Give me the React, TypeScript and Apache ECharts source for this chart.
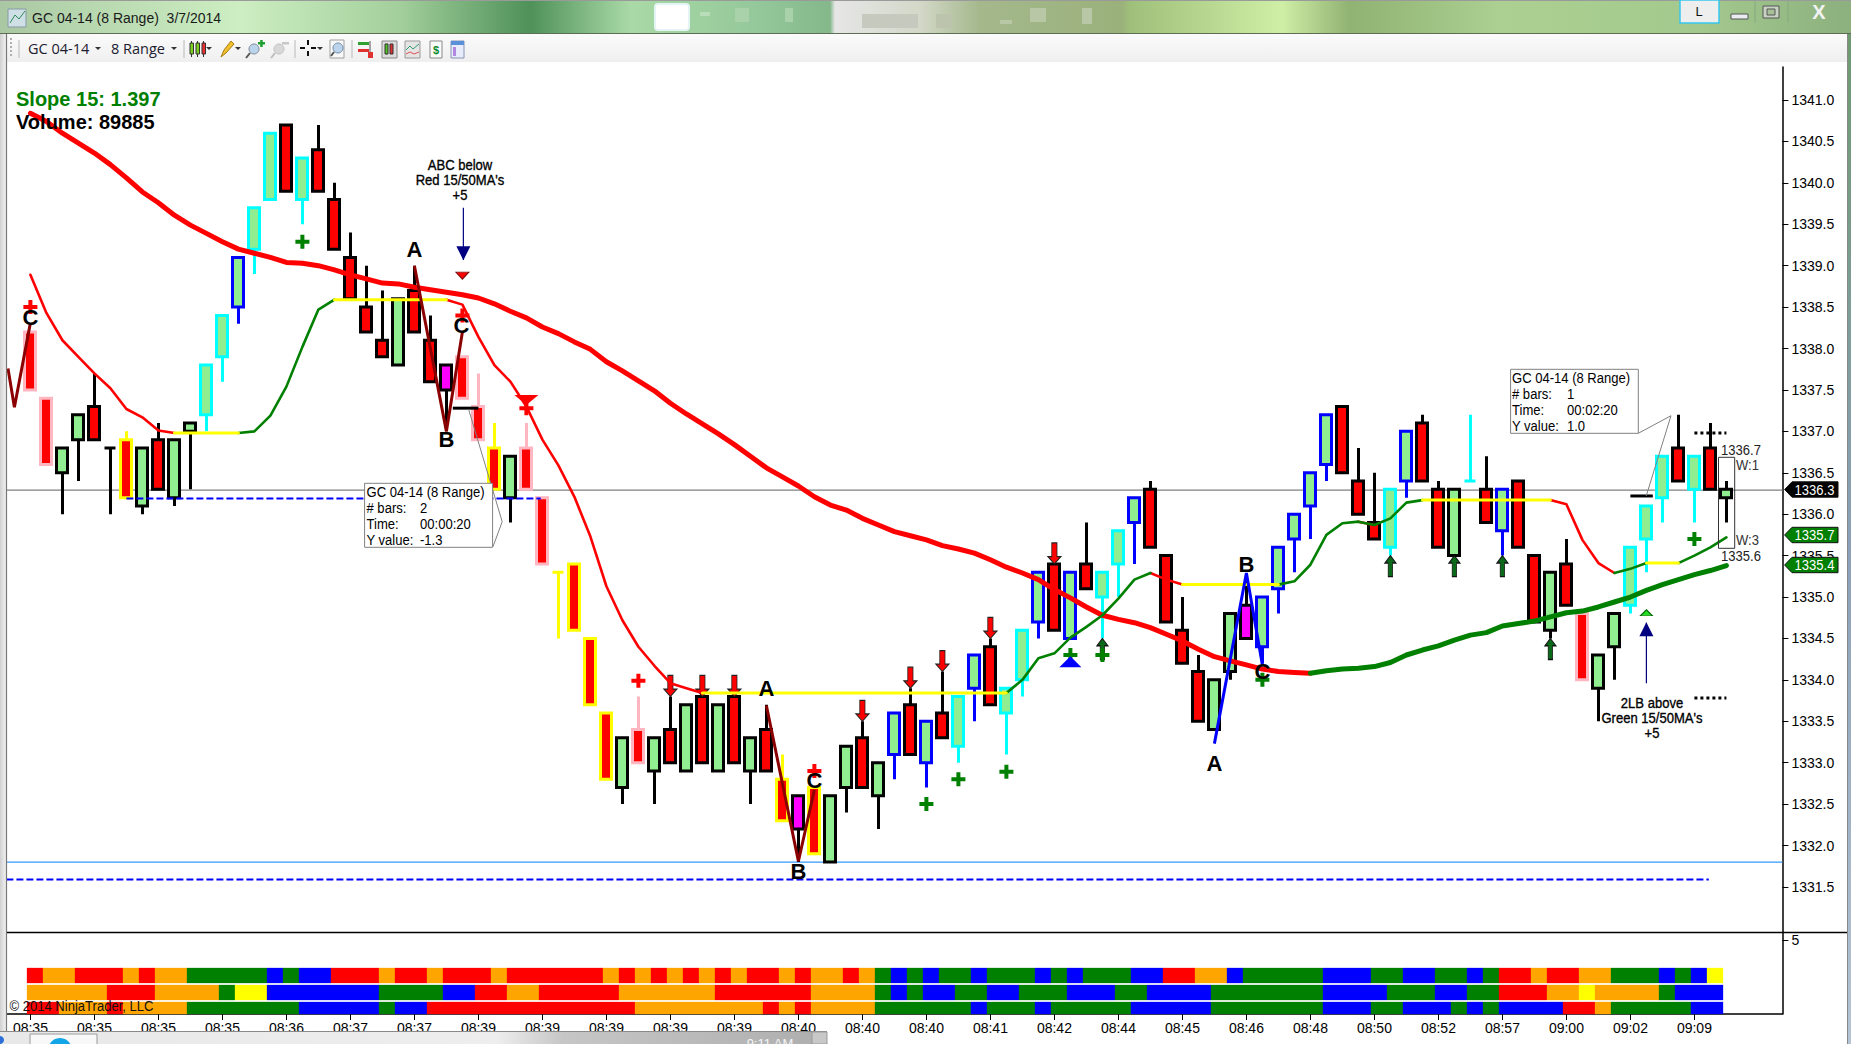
import React, { useEffect, useRef } from "react";
import * as echarts from "echarts";

const opens = [1338.2,1337.4,1336.5,1336.9,1337.3,1336.8,1336.9,1336.1,1336.9,1336.2,1337.0,1337.2,1337.9,1338.5,1339.2,1339.8,1340.7,1339.8,1340.4,1339.8,1339.1,1338.5,1338.1,1337.8,1338.7,1338.1,1337.8,1337.9,1337.3,1336.8,1336.2,1336.8,1336.2,1335.3,1335.4,1334.5,1333.6,1332.7,1333.4,1332.9,1333.4,1332.9,1333.8,1332.9,1333.8,1332.9,1333.4,1332.8,1332.6,1332.7,1331.8,1332.7,1333.3,1332.6,1333.1,1333.7,1333.0,1333.6,1333.2,1333.9,1334.4,1333.6,1334.0,1334.7,1335.4,1334.5,1335.4,1335.0,1335.4,1335.9,1336.3,1335.5,1334.6,1334.1,1333.4,1334.1,1334.9,1334.4,1335.1,1335.7,1336.1,1336.6,1337.3,1336.4,1335.9,1335.6,1336.4,1337.1,1336.3,1335.5,1336.4,1336.3,1335.8,1336.4,1335.5,1334.6,1335.4,1334.8,1333.9,1334.4,1334.9,1335.7,1336.2,1336.8,1336.3,1336.8,1336.2];
const closes = [1337.5,1336.6,1336.8,1337.2,1336.9,1336.8,1336.2,1336.8,1336.3,1336.9,1337.1,1337.8,1338.4,1339.1,1339.7,1340.6,1339.9,1340.3,1339.9,1339.2,1338.6,1338.2,1337.9,1338.6,1338.2,1337.6,1337.5,1337.4,1336.9,1336.3,1336.7,1336.3,1335.4,1335.3,1334.6,1333.7,1332.8,1333.3,1333.0,1333.3,1333.0,1333.7,1333.0,1333.7,1333.0,1333.3,1332.9,1332.3,1332.2,1331.9,1332.6,1333.2,1332.7,1333.0,1333.6,1333.1,1333.5,1333.3,1333.8,1334.3,1333.7,1333.9,1334.6,1335.3,1334.6,1335.3,1335.1,1335.3,1335.8,1336.2,1335.6,1334.7,1334.2,1333.5,1334.0,1334.8,1334.5,1335.0,1335.6,1336.0,1336.5,1337.2,1336.5,1336.0,1335.7,1336.3,1337.0,1336.4,1335.6,1336.3,1336.4,1335.9,1336.3,1335.6,1334.7,1335.3,1334.9,1334.0,1334.3,1334.8,1335.6,1336.1,1336.7,1336.4,1336.7,1336.3,1336.3];
const lows = [1337.5,1336.6,1336.0,1336.4,1336.9,1336.0,1336.2,1336.0,1336.3,1336.1,1336.3,1337.0,1337.6,1338.3,1338.9,1339.8,1339.9,1339.5,1339.9,1339.2,1338.6,1338.2,1337.9,1337.8,1338.2,1337.6,1337.0,1337.4,1336.9,1336.3,1335.9,1336.3,1335.4,1334.5,1334.6,1333.7,1332.8,1332.5,1333.0,1332.5,1333.0,1332.9,1333.0,1332.9,1333.0,1332.5,1332.9,1332.3,1331.8,1331.9,1331.8,1332.4,1332.7,1332.2,1332.8,1333.1,1332.7,1333.3,1333.0,1333.5,1333.7,1333.1,1333.8,1334.5,1334.6,1334.5,1335.1,1334.5,1335.0,1335.4,1335.6,1334.7,1334.2,1333.5,1333.4,1334.0,1334.5,1334.2,1334.8,1335.3,1335.7,1336.4,1336.5,1336.0,1335.7,1335.5,1336.2,1336.4,1335.6,1335.5,1336.4,1335.9,1335.5,1335.6,1334.7,1334.5,1334.9,1334.0,1333.5,1334.0,1334.8,1335.3,1335.9,1336.4,1335.9,1336.3,1335.9];
const highs = [1338.2,1337.4,1336.8,1337.2,1337.7,1336.8,1337.0,1336.8,1337.1,1336.9,1337.1,1337.8,1338.4,1339.1,1339.7,1340.6,1340.7,1340.3,1340.7,1340.0,1339.4,1339.0,1338.7,1338.6,1339.0,1338.4,1337.8,1337.9,1337.7,1337.1,1336.7,1337.1,1336.2,1335.3,1335.4,1334.5,1333.6,1333.3,1333.8,1333.3,1333.8,1333.7,1333.8,1333.7,1333.8,1333.3,1333.7,1333.1,1332.6,1332.7,1332.6,1333.2,1333.5,1333.0,1333.6,1333.9,1333.5,1334.1,1333.8,1334.3,1334.5,1333.9,1334.6,1335.3,1335.4,1335.3,1335.9,1335.3,1335.8,1336.2,1336.4,1335.5,1335.0,1334.3,1334.0,1334.8,1335.2,1335.0,1335.6,1336.0,1336.5,1337.2,1337.3,1336.8,1336.5,1336.3,1337.0,1337.2,1336.4,1336.3,1337.2,1336.7,1336.3,1336.4,1335.5,1335.3,1335.7,1334.8,1334.3,1334.8,1335.6,1336.1,1336.7,1337.2,1336.7,1337.1,1336.4];
const barBorders = ["ppkkkkykkk","kccbcckckk","kkkkkkkppy","kppyyyykpk","kkkkkkkyky","kkkkbkbkcb","kccbkbkccb","kkkkkkkbbb","bbkkkcbkkk","ckbkkkkpkk","ccckckk"].join("").split("");
const magentaBars = [26, 48, 76];

const ma50 = [1340.84,1340.74,1340.60,1340.48,1340.36,1340.22,1340.06,1339.89,1339.76,1339.61,1339.49,1339.39,1339.29,1339.20,1339.15,1339.10,1339.04,1339.03,1339.00,1338.95,1338.89,1338.84,1338.79,1338.78,1338.74,1338.71,1338.68,1338.65,1338.61,1338.54,1338.45,1338.37,1338.26,1338.18,1338.08,1337.99,1337.84,1337.73,1337.61,1337.49,1337.34,1337.21,1337.09,1336.97,1336.84,1336.70,1336.56,1336.45,1336.34,1336.21,1336.11,1336.05,1335.95,1335.87,1335.79,1335.74,1335.69,1335.62,1335.58,1335.53,1335.45,1335.36,1335.29,1335.21,1335.09,1334.99,1334.88,1334.78,1334.73,1334.69,1334.63,1334.55,1334.47,1334.37,1334.28,1334.23,1334.18,1334.13,1334.10,1334.09,1334.08,1334.11,1334.13,1334.14,1334.16,1334.21,1334.30,1334.36,1334.41,1334.48,1334.54,1334.57,1334.65,1334.68,1334.71,1334.76,1334.81,1334.83,1334.88,1334.94,1335.00,1335.08,1335.15,1335.21,1335.27,1335.32,1335.38];
const ma15 = [1338.89,1338.43,1338.10,1337.90,1337.70,1337.52,1337.27,1337.17,1337.01,1336.98,1336.98,1336.98,1336.98,1336.98,1337.00,1337.19,1337.54,1338.02,1338.47,1338.59,1338.59,1338.59,1338.59,1338.59,1338.59,1338.59,1338.59,1338.53,1338.14,1337.80,1337.60,1337.30,1336.90,1336.59,1336.21,1335.73,1335.13,1334.72,1334.40,1334.17,1333.96,1333.90,1333.84,1333.84,1333.84,1333.84,1333.84,1333.84,1333.84,1333.84,1333.84,1333.84,1333.84,1333.84,1333.84,1333.84,1333.84,1333.84,1333.84,1333.84,1333.84,1333.84,1334.00,1334.26,1334.32,1334.51,1334.64,1334.78,1334.98,1335.21,1335.29,1335.21,1335.15,1335.15,1335.15,1335.15,1335.15,1335.15,1335.15,1335.19,1335.39,1335.75,1335.89,1335.91,1335.87,1335.95,1336.14,1336.17,1336.17,1336.17,1336.17,1336.17,1336.17,1336.17,1336.17,1336.17,1336.12,1335.69,1335.41,1335.29,1335.34,1335.41,1335.41,1335.41,1335.50,1335.60,1335.72];
const ma15Red = [[0,9],[26,42],[70,72],[83,84],[95,99]];
const ma15Green = [[13,19],[61,70],[78,83],[84,87],[99,101],[103,106]];
const ma15Yellow = [[9,13],[19,26],[42,61],[72,78],[87,95],[101,103]];
const ma50Red = [[0,80]];
const ma50Green = [[80,106]];

const timeLabels = ["08:35","08:35","08:35","08:35","08:36","08:37","08:37","08:39","08:39","08:39","08:39","08:39","08:40","08:40","08:40","08:41","08:42","08:44","08:45","08:46","08:48","08:50","08:52","08:57","09:00","09:02","09:09"];
const priceTicks = [1331.5,1332,1332.5,1333,1333.5,1334,1334.5,1335,1335.5,1336,1336.5,1337,1337.5,1338,1338.5,1339,1339.5,1340,1340.5,1341];

const row1 = "r oo rrr o r oo ggggg b g bb rrr o rr o rrr o rrrrrr o r o r o r o r o rr o r oo r o g b g b gg b ggg b g b ggg bb rr oo b ggggg bbb gg bb gg b g rr o rr oo ggg b g b y";
const row2 = "ooooo rrr oooo g yy bbbbbbb gggg bb rr oo rrrrr oooooo rrrrrr oooo g b g bb gg bb ggg bbb gg bbbb ggggggg bbbb ggg bb gg rrr oo y oooo g bbb";
const row3 = "rr ooo r oooo ggggggg bbbbb g bb rrrrrrrrrrrrr oooooooo r o r oooo gggggg b ggg b ggggg bbbbb ggggggg bbb gg bbb g b g bbbb rr o ggggg bb";

const redPlusBars = [[0,1338.5],[27,1338.4],[31,1337.28],[38,1333.99],[49,1332.9]];
const greenPlusBars = [[17,1339.29],[56,1332.5],[58,1332.8],[61,1332.89],[65,1334.3],[67,1334.3],[77,1334.0],[104,1335.7]];
const downArrowTips = [[40,1333.8],[42,1333.8],[44,1333.8],[52,1333.5],[55,1333.9],[57,1334.1],[60,1334.5],[64,1335.4]];
const upArrowTips = [[67,1334.5],[85,1335.5],[89,1335.5],[92,1335.5],[95,1334.5]];

const abcRedA = [[-1.4,1337.76],[-1,1337.29],[0,1338.31]];
const abcRedB = [[24,1339.0],[26,1337.0],[27,1338.2]];
const abcRedC = [[46,1333.69],[48,1331.81],[49,1332.67]];
const abcBlue = [[74,1333.23],[76,1335.29],[77,1334.18]];
const abcLetters = [[0,1338.38,"C"],[24,1339.19,"A"],[26.94,1338.28,"C"],[26,1336.9,"B"],[46,1333.9,"A"],[48,1331.69,"B"],[49,1332.79,"C"],[74,1332.99,"A"],[76,1335.39,"B"],[77,1334.1,"C"]];

const SANS = "'Liberation Sans',Arial,sans-serif";
const UI = "'Open Sans','Noto Sans',sans-serif";
const NARROW = 0.87;
const borderColors: any = { k: "#000000", p: "#ffb6c1", y: "#ffff00", c: "#00ffff", b: "#0000ff" };
const cellColors = ["#ff0000", "#ffa500", "#008000", "#0000ff", "#ffff00"];
const cellKeys = "rogby";

const slots = 111;
const mask = (vals: number[], runs: number[][]) => {
  const out: any[] = [null];
  vals.forEach((v, i) => out.push(runs.some(([a, b]) => i >= a && i <= b) ? v : null));
  return out;
};
const lineSeries = (data: any[], color: string, width: number, z: number) => ({
  type: "line", data, symbol: "none", showSymbol: false, silent: true, z,
  lineStyle: { color, width, cap: "round", join: "round" }, connectNulls: false, animation: false,
});
const seg = (data: any[], color: string, width: number, z: number, dash?: any) => ({
  type: "line", xAxisIndex: 1, yAxisIndex: 0, data, symbol: "none", showSymbol: false, silent: true, z,
  lineStyle: { color, width, type: dash || "solid" }, animation: false,
});
const marker = (data: any[], symbol: string, size: number[], fill: string, stroke: string | null, z: number, offset?: number[]) => ({
  type: "scatter", xAxisIndex: 1, yAxisIndex: 0, data, symbol, symbolSize: size, symbolOffset: offset || [0, 0], silent: true, z,
  itemStyle: { color: fill, borderColor: stroke || fill, borderWidth: stroke ? 1 : 0, opacity: 1 }, animation: false,
});

const PLUS = "path://M5 0H9V5H14V9H9V14H5V9H0V5H5Z";
const DOWN = "path://M3 0H7V13H10L5 20L0 13H3Z";
const UP = "path://M5 0L10 7H7V20H3V7H0Z";
const TRI_D = "path://M0 0H10L5 10Z";
const TRI_U = "path://M5 0L10 10H0Z";

function chrome() {
  const g: any[] = [];
  const Z = 100;
  const rect = (x: number, y: number, w: number, h: number, fill: any, stroke?: string, lw = 1, r?: number) =>
    g.push({ type: "rect", silent: true, z: Z, shape: { x, y, width: w, height: h, r: r || 0 }, style: { fill, stroke: stroke || "none", lineWidth: lw } });
  const text = (x: number, y: number, t: string, font: string, fill = "#000", align = "left", sx = 1, heavy = false) =>
    g.push({ type: "text", silent: true, z: Z + 1, x, y, scaleX: sx, style: { text: t, font, fill, textAlign: align, textVerticalAlign: "middle", stroke: heavy ? fill : undefined, lineWidth: heavy ? 0.35 : 0 } });
  const narrow = (x: number, y: number, t: string, fill = "#000", align = "left", heavy = false) =>
    text(x, y, t, `15px ${SANS}`, fill, align, NARROW, heavy);
  const line = (x1: number, y1: number, x2: number, y2: number, stroke: string, lw = 1) =>
    g.push({ type: "line", silent: true, z: Z, shape: { x1, y1, x2, y2 }, style: { stroke, lineWidth: lw } });
  const poly = (pts: number[][], fill: string, stroke?: string) =>
    g.push({ type: "polygon", silent: true, z: Z, shape: { points: pts }, style: { fill, stroke: stroke || "none", lineWidth: 1 } });
  const polyline = (pts: number[][], stroke: string) =>
    g.push({ type: "polyline", silent: true, z: Z, shape: { points: pts }, style: { fill: "none", stroke, lineWidth: 1 } });
  const T = 1851;

  // title bar
  rect(0, 0, T, 33, new echarts.graphic.LinearGradient(0, 0, 1, 0, [
    { offset: 0, color: "#a9c7a2" }, { offset: 60 / T, color: "#b3d3ac" }, { offset: 240 / T, color: "#cdeec2" },
    { offset: 400 / T, color: "#a3cf9c" }, { offset: 530 / T, color: "#4f9159" }, { offset: 630 / T, color: "#a9d9a6" },
    { offset: 760 / T, color: "#94c79a" }, { offset: 830 / T, color: "#84b78a" }, { offset: 835 / T, color: "#e6e6e6" },
    { offset: 920 / T, color: "#d3d8c8" }, { offset: 980 / T, color: "#a4b88c" }, { offset: 1122 / T, color: "#9bb17b" },
    { offset: 1130 / T, color: "#9fc07a" }, { offset: 1282 / T, color: "#cfeea6" }, { offset: 1350 / T, color: "#90b272" },
    { offset: 1500 / T, color: "#abd091" }, { offset: 1700 / T, color: "#a4c98e" }, { offset: 1, color: "#8cb07e" },
  ]));
  rect(0, 0, T, 1, "#9a9a9a");
  line(0, 33.5, T, 33.5, "#5e6e55", 1);
  rect(655, 4, 34, 26, "#ffffff", "#e4f4f4", 2, 3);
  rect(700, 12, 10, 4, "#b9dcb9");
  rect(735, 8, 14, 14, "#a9d2ab");
  rect(785, 8, 8, 14, "#a9d2ab");
  rect(862, 14, 56, 14, "#c6c9be");
  rect(936, 14, 16, 14, "#bcc4ae");
  rect(1000, 20, 12, 4, "#b8c8a6");
  rect(1030, 8, 16, 14, "#b8c8a6");
  rect(1082, 8, 10, 16, "#b8c8a6");
  text(32, 18, "GC 04-14 (8 Range)  3/7/2014", `14px ${SANS}`, "#1a1a1a");
  rect(8, 9, 18, 18, "#cfdfe6", "#8899a8");
  polyline([[10, 23], [15, 15], [19, 19], [25, 11]], "#2e8b57");
  // window buttons
  rect(1680, 0, 39, 23, "#eeeeee", "#37c8ee", 1.5);
  text(1699, 11, "L", `13px ${SANS}`, "#111", "center");
  rect(1731, 14, 17, 5, "#e9edf0", "#555", 1);
  rect(1763, 6, 16, 12, "#c9d3c4", "#555", 1);
  rect(1767, 9, 8, 6, "#a8c098", "#555", 1);
  text(1819, 12, "X", `bold 20px ${SANS}`, "#f2f2f2", "center");
  line(1755, 1, 1755, 23, "#87a881");
  line(1788, 1, 1788, 23, "#87a881");

  // toolbar
  rect(7, 34, 1840, 28, new echarts.graphic.LinearGradient(0, 0, 0, 1, [{ offset: 0, color: "#fbfbfb" }, { offset: 1, color: "#efefef" }]));
  [38, 42, 46, 50, 54].forEach((y) => rect(10, y, 2, 2, "#b0b0b0"));
  [19, 184, 295, 352].forEach((x) => line(x, 40, x, 58, "#b8b8b8"));
  text(28, 48.5, "GC 04-14", `14.5px ${UI}`, "#1c2030");
  text(111, 48.5, "8 Range", `14.5px ${UI}`, "#1c2030");
  const tri = (x: number) => poly([[x - 3, 47], [x + 3, 47], [x, 50]], "#333");
  [98, 174, 209, 238, 320].forEach(tri);
  [[190, "#7cd020"], [196, "#7cd020"], [202, "#e83030"]].forEach(([x, c]: any) => { line(x + 1.5, 41, x + 1.5, 57, "#333"); rect(x, 43, 3.5, 11, c, "#333"); });
  poly([[221, 57], [224, 50], [231, 41], [234, 44], [226, 53]], "#f0c030", "#a87c10");
  g.push({ type: "circle", silent: true, z: Z, shape: { cx: 254, cy: 49, r: 5 }, style: { fill: "#bcd3ec", stroke: "#7d8a99" } });
  line(250, 53, 246, 58, "#555", 2);
  rect(258, 42, 7, 2.5, "#20a030"); rect(260.2, 40, 2.5, 7, "#20a030");
  g.push({ type: "circle", silent: true, z: Z, shape: { cx: 279, cy: 49, r: 5 }, style: { fill: "#d8d8d8", stroke: "#c0c0c0" } });
  line(275, 53, 271, 58, "#bbb", 2);
  rect(282, 42, 7, 2.5, "#c8c8c8");
  rect(300, 47, 5, 2, "#111"); rect(311, 47, 5, 2, "#111"); rect(307, 40, 2, 5, "#111"); rect(307, 51, 2, 5, "#111");
  rect(330, 40, 14, 18, "#f8f8f8", "#a0a0a0");
  g.push({ type: "circle", silent: true, z: Z, shape: { cx: 338, cy: 48, r: 5 }, style: { fill: "#bcd3ec", stroke: "#6d8aa9" } });
  line(334, 52, 331, 56, "#555", 2);
  rect(358, 42, 11, 3, "#30a030"); rect(358, 49, 11, 3, "#e03030"); line(370, 41, 370, 58, "#555"); rect(368, 52, 5, 6, "#e03030");
  rect(382, 41, 15, 17, "#dcdcdc", "#888"); rect(385, 44, 3, 10, "#50c020", "#333"); rect(390, 44, 3, 10, "#e03030", "#333");
  rect(405, 41, 15, 17, "#e4e4e4", "#999");
  polyline([[406, 50], [410, 46], [413, 49], [419, 44]], "#30a070");
  polyline([[406, 54], [410, 52], [414, 54], [419, 52]], "#e05050");
  rect(430, 41, 12, 17, "#fafafa", "#888"); text(436, 50, "$", `bold 11px ${SANS}`, "#0a8a2a", "center");
  rect(451, 41, 13, 17, "#e8ecfa", "#8894b8"); rect(451, 41, 13, 4, "#5a90d8"); rect(453, 47, 3, 9, "#b088e0");

  // left / right window frame
  rect(0, 34, 6, 1000, new echarts.graphic.LinearGradient(0, 0, 1, 0, [{ offset: 0, color: "#d0d0d0" }, { offset: 1, color: "#f2f2f2" }]));
  line(6.5, 34, 6.5, 1031, "#777", 1.2);
  rect(1848, 34, 3, 1010, new echarts.graphic.LinearGradient(0, 0, 0, 1, [{ offset: 0, color: "#6f9a6f" }, { offset: 0.5, color: "#8aa0b8" }, { offset: 1, color: "#b4c4d4" }]));
  line(1847.5, 34, 1847.5, 1044, "#888", 1);

  // panel separator
  line(7, 932.5, 1847, 932.5, "#000", 1.5);

  // overlays on chart
  text(16, 99, "Slope 15: 1.397", `bold 20px ${SANS}`, "#008000");
  text(16, 122, "Volume: 89885", `bold 20px ${SANS}`, "#000");
  [["ABC below", 165], ["Red 15/50MA's", 180], ["+5", 195]].forEach(([t, y]: any) => narrow(460, y, t, "#000", "center", true));
  [["2LB above", 703], ["Green 15/50MA's", 718], ["+5", 733]].forEach(([t, y]: any) => narrow(1652, y, t, "#000", "center", true));

  // ruler boxes
  polyline([[468.6, 409.3], [502.2, 521.7], [493, 546.7]], "#808080");
  rect(364.6, 483.3, 128, 64, "#ffffff", "#808080");
  const b1: any[] = [["GC 04-14 (8 Range)", "", 491.7], ["# bars:", "2", 507.7], ["Time:", "00:00:20", 523.3], ["Y value:", "-1.3", 539.3]];
  b1.forEach(([a, v, y]) => { narrow(366.5, y, a); if (v) narrow(420, y, v); });
  polyline([[1638.3, 433.3], [1671, 415.7], [1646.2, 496]], "#808080");
  rect(1510.6, 369.3, 127.7, 64, "#ffffff", "#808080");
  const b2: any[] = [["GC 04-14 (8 Range)", "", 377.7], ["# bars:", "1", 393.3], ["Time:", "00:02:20", 409.3], ["Y value:", "1.0", 425.3]];
  b2.forEach(([a, v, y]) => { narrow(1512, y, a); if (v) narrow(1567, y, v); });

  // range box at last bar
  g.push({ type: "rect", silent: true, z: Z, shape: { x: 1718.5, y: 457.3, width: 16.2, height: 91 }, style: { fill: "none", stroke: "#333", lineWidth: 1 } });
  narrow(1721, 449.5, "1336.7", "#222");
  narrow(1736, 465, "W:1", "#333");
  narrow(1736, 540, "W:3", "#333");
  narrow(1721, 556, "1335.6", "#222");

  // price tags
  const tag = (y: number, t: string, fill: string) => {
    poly([[1784.6, y], [1792, y - 7.7], [1838, y - 7.7], [1838, y + 7.7], [1792, y + 7.7]], fill, "#111");
    narrow(1794.5, y, t, "#fff");
  };
  tag(489.5, "1336.3", "#000000");
  tag(535, "1335.7", "#008000");
  tag(565, "1335.4", "#008000");

  narrow(9.5, 1006, "\u00a9 2014 NinjaTrader, LLC", "#111");

  // taskbar fragment
  rect(0, 1032, 827, 12, new echarts.graphic.LinearGradient(0, 0, 1, 0, [
    { offset: 0, color: "#e8e8e8" }, { offset: 0.6, color: "#eeeeee" }, { offset: 0.68, color: "#c6c6c6" }, { offset: 1, color: "#aeaeae" },
  ]));
  line(0, 1031.5, 827, 1031.5, "#8a8a8a", 1.2);
  rect(30, 1034, 67, 12, "#f8f8f8", "#9a9a9a");
  g.push({ type: "circle", silent: true, z: Z + 1, shape: { cx: 60, cy: 1050, r: 12 }, style: { fill: "#12a6e8" } });
  g.push({ type: "circle", silent: true, z: Z + 1, shape: { cx: 0, cy: 1040, r: 4 }, style: { fill: "#2a70d8" } });
  rect(812, 1032, 15, 12, "#c8c8c8", "#9a9a9a");
  text(770, 1043, "9:11 AM", `13px ${SANS}`, "#f4f4f4", "center");
  return g;
}

export default function App() {
  const ref = useRef<HTMLDivElement>(null);
  useEffect(() => {
    document.body.style.margin = "0";
    const chart = echarts.init(ref.current!, undefined, { renderer: "svg" });
    const cats = Array.from({ length: slots }, (_, k) => String(k));
    const bottomCats = Array.from({ length: slots }, (_, k) => (k >= 1 && (k - 1) % 4 === 0 ? timeLabels[(k - 1) / 4] || "" : ""));
    const candle: any[] = [{ value: ["-", "-", "-", "-"] }];
    opens.forEach((o, i) => {
      const b = borderColors[barBorders[i]];
      const fill = magentaBars.includes(i) ? "#ff00ff" : closes[i] > o ? "#90ee90" : "#ff0000";
      candle.push({
        value: [o, closes[i], lows[i], highs[i]],
        itemStyle: { color: fill, color0: fill, borderColor: b, borderColor0: b, borderColorDoji: b, borderWidth: 3 },
      });
    });
    const cells: any[] = [];
    [row1, row2, row3].forEach((r, lane) => {
      r.replace(/ /g, "").split("").forEach((ch, n) => cells.push([n + 1, lane, cellKeys.indexOf(ch)]));
    });
    const laneTops = [3.1, 1.95, 0.8];
    const laneBottoms = [2.1, 0.95, 0];

    const tickInt = (k: number) => k >= 1 && (k - 1) % 4 === 0 && k <= 105;
    chart.setOption({
      animation: false,
      backgroundColor: "#ffffff",
      textStyle: { fontFamily: SANS },
      tooltip: { show: false },
      grid: [
        { left: 6.4, width: 1776, top: 66.9, height: 865.6, containLabel: false, show: false },
        { left: 6.4, width: 1776, top: 932.5, height: 81.5, containLabel: false, show: false },
      ],
      xAxis: [
        { type: "category", gridIndex: 0, data: cats, boundaryGap: true, axisLine: { show: false }, axisTick: { show: false }, axisLabel: { show: false }, splitLine: { show: false } },
        { type: "value", gridIndex: 0, min: -1.5, max: 109.5, show: false, splitLine: { show: false } },
        {
          type: "category", gridIndex: 1, data: bottomCats, boundaryGap: true,
          axisLine: { show: true, lineStyle: { color: "#000", width: 1.5 } },
          axisTick: { show: true, alignWithLabel: true, interval: (k: number) => tickInt(k), length: 6, lineStyle: { color: "#000", width: 1 } },
          axisLabel: { show: true, interval: (k: number) => tickInt(k), margin: 7, color: "#000", fontFamily: SANS, fontSize: 14, hideOverlap: false },
          splitLine: { show: false },
        },
      ],
      yAxis: [
        {
          type: "value", gridIndex: 0, position: "right", min: 1330.95, max: 1341.4, scale: true,
          axisLine: { show: true, onZero: false, lineStyle: { color: "#000", width: 1.5 } },
          axisTick: { show: true, length: 6, customValues: priceTicks, lineStyle: { color: "#000", width: 1 } },
          axisLabel: { show: true, customValues: priceTicks, margin: 9, color: "#000", fontFamily: SANS, fontSize: 14, formatter: (v: number) => v.toFixed(1) },
          splitLine: { show: false },
        },
        {
          type: "value", gridIndex: 1, position: "right", min: 0, max: 5.5,
          axisLine: { show: true, onZero: false, lineStyle: { color: "#000", width: 1.5 } },
          axisTick: { show: true, length: 6, customValues: [5], lineStyle: { color: "#000", width: 1 } },
          axisLabel: { show: true, customValues: [5], margin: 9, color: "#000", fontFamily: SANS, fontSize: 14 },
          splitLine: { show: false },
        },
      ],
      graphic: { elements: chrome() },
      series: [
        seg([[-1.5, 1336.29], [109.5, 1336.29]], "#808080", 1.2, 1),
        seg([[-1.5, 1331.8], [109.5, 1331.8]], "#3399ff", 1.4, 1),
        seg([[-1.5, 1331.59], [104.9, 1331.59]], "#0000ff", 2, 1, [7, 3]),
        { type: "candlestick", xAxisIndex: 0, yAxisIndex: 0, data: candle, barWidth: 11.5, z: 2, silent: true, animation: false },
        seg([[6, 1336.19], [31.9, 1336.19]], "#0000ff", 2, 3, [7, 3]),
        marker(downArrowTips, DOWN, [13, 21], "#ff0000", "#222222", 3, [0, -10.5]),
        marker(upArrowTips, UP, [11, 21], "#0a6a1a", "#111111", 3, [0, 10.5]),
        lineSeries(mask(ma50, ma50Red), "#ff0000", 5, 4),
        lineSeries(mask(ma50, ma50Green), "#008000", 5, 4),
        lineSeries(mask(ma15, ma15Red), "#ff0000", 2.6, 4),
        lineSeries(mask(ma15, ma15Green), "#008000", 2.6, 4),
        lineSeries(mask(ma15, ma15Yellow), "#ffff00", 3, 4),
        seg(abcRedA, "#8b0000", 3, 5),
        seg(abcRedB, "#8b0000", 3, 5),
        seg(abcRedC, "#8b0000", 3, 5),
        seg(abcBlue, "#0000ff", 3, 5),
        marker(redPlusBars, PLUS, [14, 14], "#ff0000", null, 5),
        marker(greenPlusBars, PLUS, [14, 14], "#008000", null, 5),
        marker([[31, 1337.38]], TRI_D, [24, 10], "#ff0000", null, 5),
        marker([[27, 1338.88]], TRI_D, [13, 7], "#ff0000", "#7a1010", 5),
        marker([[65, 1334.22]], TRI_U, [22, 11], "#0000ff", null, 5),
        marker([[101, 1334.81]], TRI_U, [12, 6], "#22dd22", "#0a6a0a", 5),
        seg([[27.06, 1339.7], [27.06, 1339.07]], "#000080", 1.2, 5),
        seg([[101, 1334.69], [101, 1333.96]], "#000080", 1.2, 5),
        marker([[27.06, 1339.15]], TRI_D, [14, 14], "#000080", null, 5),
        marker([[101, 1334.61]], TRI_U, [14, 14], "#000080", null, 5),
        seg([[26.4, 1337.28], [28, 1337.28]], "#000000", 3, 5),
        seg([[100, 1336.22], [101.4, 1336.22]], "#000000", 3, 5),
        seg([[104, 1336.98], [106, 1336.98]], "#000000", 3, 5, [3, 3]),
        seg([[104, 1333.78], [106, 1333.78]], "#000000", 3, 5, [3, 3]),
        {
          type: "scatter", xAxisIndex: 1, yAxisIndex: 0, data: abcLetters, symbol: "circle", symbolSize: 1, silent: true, z: 6,
          itemStyle: { color: "rgba(0,0,0,0)", opacity: 1 },
          label: { show: true, position: "inside", formatter: (p: any) => p.value[2], color: "#000000", opacity: 1, fontFamily: SANS, fontWeight: "bold", fontSize: 22 },
          animation: false,
        },
        {
          type: "custom", xAxisIndex: 2, yAxisIndex: 1, data: cells, silent: true, z: 2, clip: false, encode: { x: 0, y: 1 },
          renderItem: (_: any, api: any) => {
            const k = api.value(0);
            const lane = api.value(1);
            const top = api.coord([k, laneTops[lane]]);
            const bottom = api.coord([k, laneBottoms[lane]]);
            return {
              type: "rect",
              shape: { x: Math.round(top[0] - 3.1), y: Math.round(top[1]), width: 16, height: Math.round(bottom[1]) - Math.round(top[1]) },
              style: { fill: cellColors[api.value(2)], stroke: cellColors[api.value(2)], lineWidth: 0.3 },
            };
          },
          animation: false,
        },
      ],
    });
    return () => chart.dispose();
  }, []);
  return <div ref={ref} style={{ width: 1851, height: 1044 }} />;
}
